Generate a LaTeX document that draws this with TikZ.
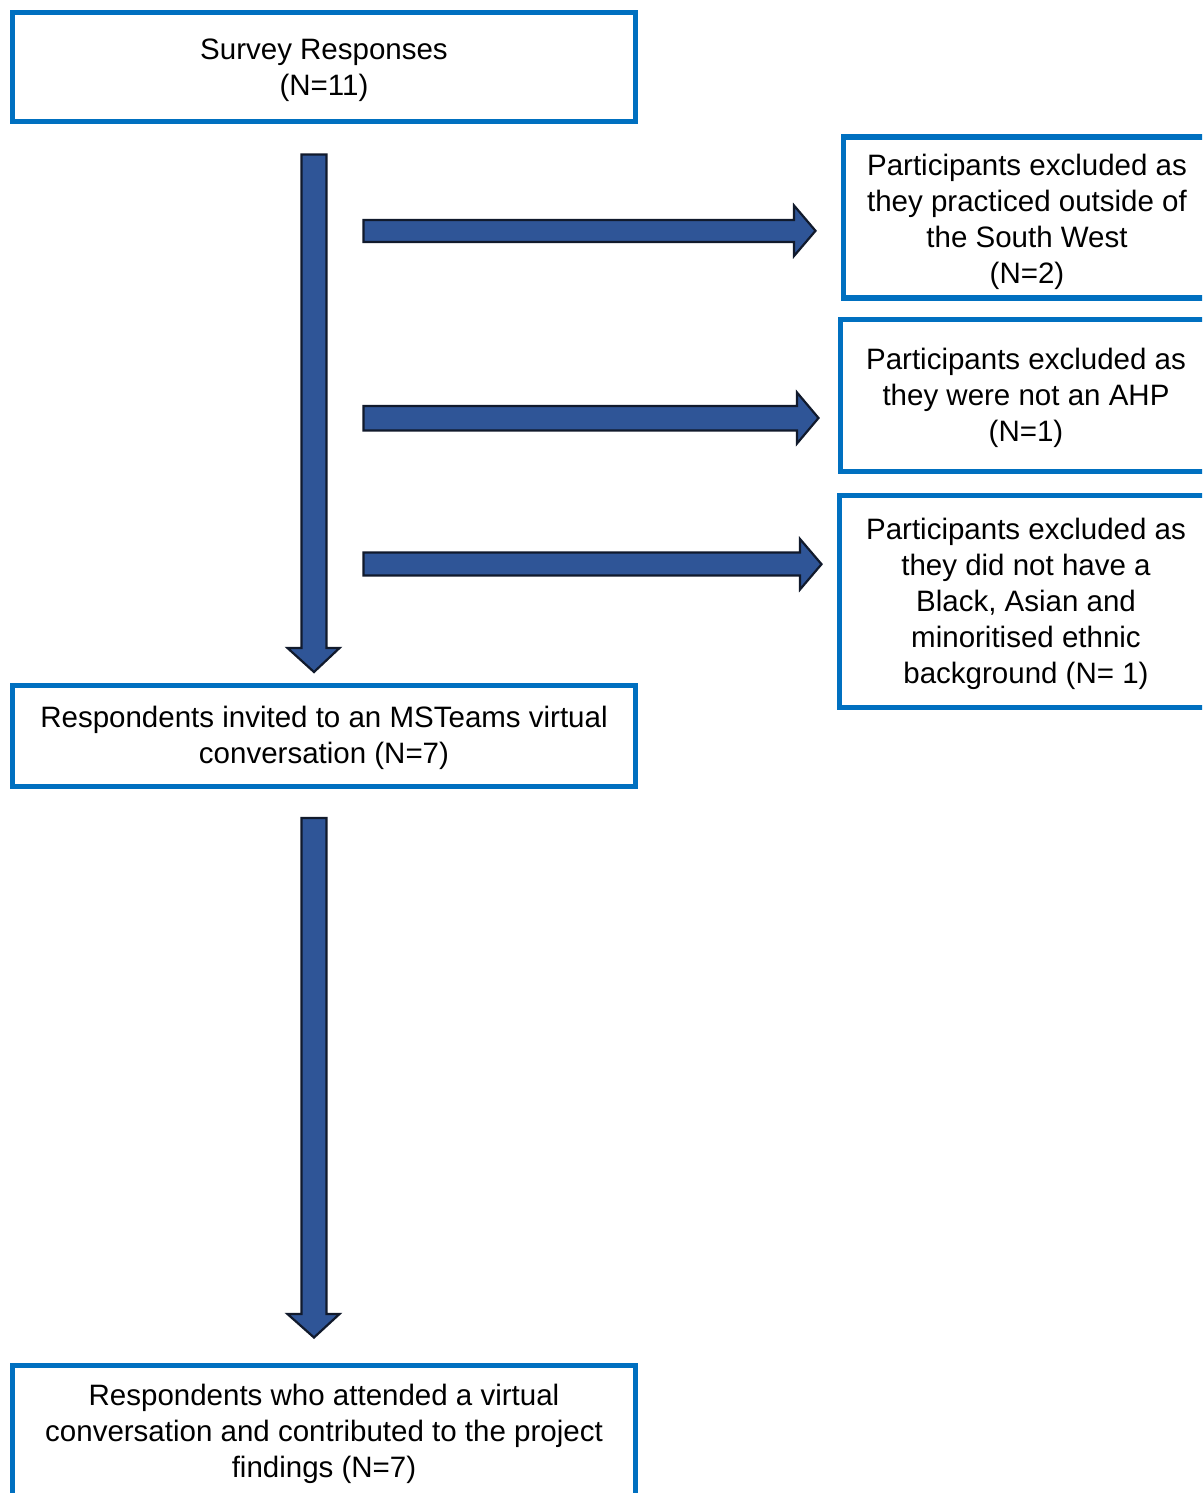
\documentclass[tikz,border=0pt]{standalone}
\usepackage{fontspec}
\setmainfont{Liberation Sans}
\definecolor{boxblue}{HTML}{0070C0}
\definecolor{arrfill}{HTML}{2F5597}
\definecolor{arrline}{HTML}{111A2C}
\newcommand{\boxtext}[2][2.5pt]{\raisebox{-#1}[\height][\depth]{\begin{tabular}{@{}c@{}}#2\end{tabular}}}
\begin{document}
\begin{tikzpicture}[x=1pt,y=-1pt,
  flowbox/.style={draw=boxblue, line width=5.5pt, fill=white, rectangle, align=center,
    inner sep=0pt, outer sep=0pt,
    font=\fontsize{29.5}{36}\selectfont},
  blockarrow/.style={fill=arrfill, draw=arrline, line width=2.2pt, line join=miter}]
\useasboundingbox (0,0) rectangle (1202,1493);
\clip (0,0) rectangle (1202,1493);
\fill[white] (0,0) rectangle (1202,1493);

% boxes
\node[flowbox, minimum width=623pt, minimum height=109pt] (survey) at (324,67)
  {\boxtext[3pt]{Survey Responses\\(N=11)}};
\node[flowbox, minimum width=623pt, minimum height=101pt] (invited) at (324,736)
  {\boxtext{Respondents invited to an MSTeams virtual\\conversation (N=7)}};
\node[flowbox, minimum width=623pt, minimum height=133pt] (attended) at (324,1432)
  {\boxtext{Respondents who attended a virtual\\conversation and contributed to the project\\findings (N=7)}};
\node[flowbox, minimum width=367pt, minimum height=161pt] (exA) at (1027,217.5)
  {\boxtext[4.5pt]{Participants excluded as\\they practiced outside of\\the South West\\(N=2)}};
\node[flowbox, minimum width=371pt, minimum height=152pt] (exB) at (1026,395.5)
  {\boxtext{Participants excluded as\\they were not an AHP\\(N=1)}};
\node[flowbox, minimum width=373pt, minimum height=212pt] (exC) at (1026,601.5)
  {\boxtext{Participants excluded as\\they did not have a\\Black, Asian and\\minoritised ethnic\\background (N= 1)}};

% vertical block arrows
\draw[blockarrow] (301.5,154.5) -- (326.5,154.5) -- (326.5,648) -- (339.5,648)
  -- (314,672) -- (287.5,648) -- (301.5,648) -- cycle;
\draw[blockarrow] (301.5,818) -- (326.5,818) -- (326.5,1314) -- (339.5,1314)
  -- (314,1337.5) -- (287.5,1314) -- (301.5,1314) -- cycle;

% horizontal block arrows
\draw[blockarrow] (363.5,220) -- (794,220) -- (794,205.5) -- (815.5,230.8)
  -- (794,256) -- (794,242) -- (363.5,242) -- cycle;
\draw[blockarrow] (363.5,406) -- (797,406) -- (797,392.5) -- (818.5,418)
  -- (797,443.5) -- (797,430.5) -- (363.5,430.5) -- cycle;
\draw[blockarrow] (363.5,552.5) -- (800,552.5) -- (800,539) -- (821.5,564.2)
  -- (800,589.5) -- (800,575.5) -- (363.5,575.5) -- cycle;
\end{tikzpicture}
\end{document}
